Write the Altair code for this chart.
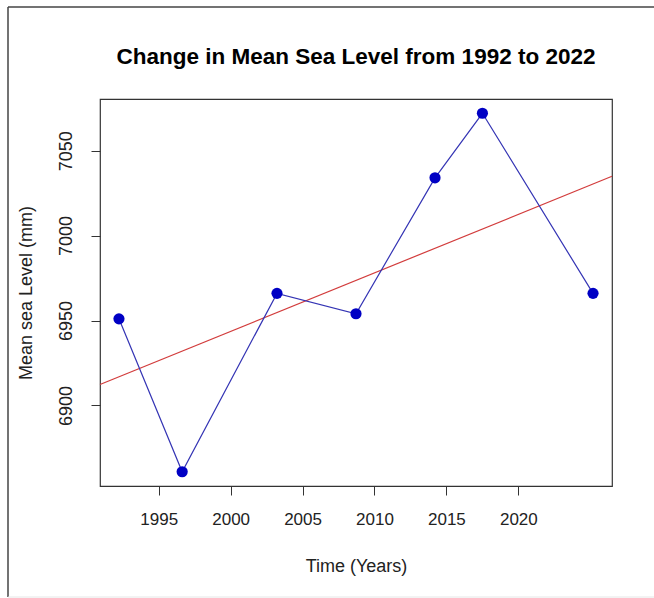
import altair as alt
import pandas as pd

# Data
years = [1992, 1996, 2002, 2007, 2012, 2015, 2022]
sea_level = [6951, 6861, 6966, 6954, 7034, 7072, 6966]

x_tick_years = [1995, 2000, 2005, 2010, 2015, 2020]
y_ticks = [6900, 6950, 7000, 7050]

df = pd.DataFrame({"year": years, "sea": sea_level})
ticks_df = pd.DataFrame({"tick": x_tick_years})
frame_df = pd.DataFrame({"k": [0]})

FONT = "Liberation Sans"
X_DOMAIN = [1990.8, 2023.2]
Y_DOMAIN = [6852.6, 7080.4]
AXIS_X_DOMAIN = [1990.92, 2026.51]

x_data = alt.X("year:Q", scale=alt.Scale(domain=X_DOMAIN, nice=False, zero=False), axis=None)
y_enc = alt.Y(
    "sea:Q",
    scale=alt.Scale(domain=Y_DOMAIN, nice=False, zero=False),
    axis=alt.Axis(
        values=y_ticks,
        format="d",
        title="Mean sea Level (mm)",
        labelAngle=270,
        labelAlign="center",
        labelBaseline="bottom",
        labelPadding=16,
        titlePadding=22,
        labelFontSize=18,
        titleFontSize=18,
    ),
)

axis_layer = alt.Chart(ticks_df).mark_point(opacity=0).encode(
    x=alt.X(
        "tick:Q",
        scale=alt.Scale(domain=AXIS_X_DOMAIN, nice=False, zero=False),
        axis=alt.Axis(
            values=x_tick_years,
            orient="bottom",
            title="Time (Years)",
            format="d",
            labelPadding=16,
            titlePadding=30,
            labelFontSize=17,
            titleFontSize=18,
        ),
    ),
    y=alt.value(0),
)

base = alt.Chart(df)

fit = base.transform_regression("year", "sea", extent=X_DOMAIN).mark_line(
    color="#d23c3c", strokeWidth=1.2
).encode(x=x_data, y=y_enc)

line = base.mark_line(color="#3434b4", strokeWidth=1.2).encode(x=x_data, y=y_enc)

pts = base.mark_circle(size=125, color="#0000c4", opacity=1).encode(x=x_data, y=y_enc)

frame_left = alt.Chart(frame_df).mark_rule(color="#444444", strokeWidth=1.5, clip=False).encode(
    x=alt.value(-92), y=alt.value(-92), y2=alt.value(498)
)
frame_top = alt.Chart(frame_df).mark_rule(color="#444444", strokeWidth=1.5, clip=False).encode(
    x=alt.value(-92), x2=alt.value(560), y=alt.value(-92)
)
frame_bottom = alt.Chart(frame_df).mark_rule(color="#e6e6e6", strokeWidth=1, clip=False).encode(
    x=alt.value(-92), x2=alt.value(560), y=alt.value(498)
)

chart = (
    alt.layer(axis_layer, fit, line, pts, frame_left, frame_top, frame_bottom)
    .resolve_scale(x="independent")
    .properties(
        width=512,
        height=387,
        autosize=alt.AutoSizeParams(type="none"),
        padding={"left": 100, "top": 99, "right": 42, "bottom": 112},
        background="white",
        title=alt.Title(
            "Change in Mean Sea Level from 1992 to 2022",
            font=FONT,
            fontSize=22.5,
            fontWeight="bold",
            color="black",
            anchor="middle",
            frame="group",
            offset=-62,
        ),
    )
    .configure_view(stroke="#333333", strokeWidth=1.2)
    .configure_axis(
        domain=False,
        grid=False,
        ticks=True,
        tickSize=9,
        tickColor="#333333",
        tickWidth=1,
        labelFont=FONT,
        titleFont=FONT,
        labelColor="#222222",
        titleColor="#222222",
        titleFontWeight="normal",
    )
)

chart.save("out.html", embed_options={"renderer": "svg", "actions": False})
